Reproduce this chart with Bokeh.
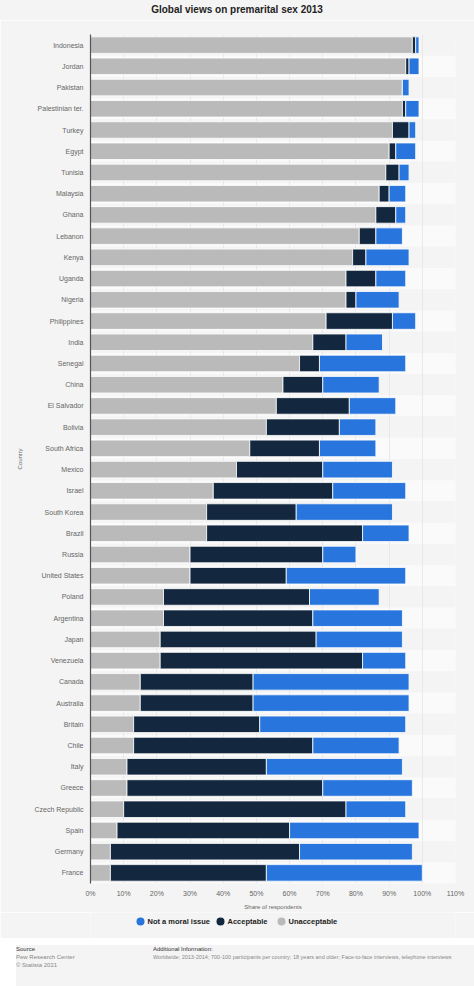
from bokeh.plotting import figure
from bokeh.layouts import column, row
from bokeh.models import (ColumnDataSource, FactorRange, Range1d, FixedTicker,
                          PrintfTickFormatter, Div)
from bokeh.core.properties import value
from bokeh.embed import file_html
from bokeh.resources import INLINE

# ---------------- data ----------------
countries = ["Indonesia", "Jordan", "Pakistan", "Palestinian ter.", "Turkey", "Egypt",
             "Tunisia", "Malaysia", "Ghana", "Lebanon", "Kenya", "Uganda", "Nigeria",
             "Philippines", "India", "Senegal", "China", "El Salvador", "Bolivia",
             "South Africa", "Mexico", "Israel", "South Korea", "Brazil", "Russia",
             "United States", "Poland", "Argentina", "Japan", "Venezuela", "Canada",
             "Australia", "Britain", "Chile", "Italy", "Greece", "Czech Republic",
             "Spain", "Germany", "France"]
unacceptable = [97, 95, 94, 94, 91, 90, 89, 87, 86, 81, 79, 77, 77, 71, 67, 63, 58, 56, 53,
                48, 44, 37, 35, 35, 30, 30, 22, 22, 21, 21, 15, 15, 13, 13, 11, 11, 10, 8, 6, 6]
acceptable = [1, 1, 0, 1, 5, 2, 4, 3, 6, 5, 4, 9, 3, 20, 10, 6, 12, 22, 22,
              21, 26, 36, 27, 47, 40, 29, 44, 45, 47, 61, 34, 34, 38, 54, 42, 59, 67, 52, 57, 47]
not_moral = [1, 3, 2, 4, 2, 6, 3, 5, 3, 8, 13, 9, 13, 7, 11, 26, 17, 14, 11,
             17, 21, 22, 29, 14, 10, 36, 21, 27, 26, 13, 47, 47, 44, 26, 41, 27, 18, 39, 34, 47]
series_names = ["Not a moral issue", "Acceptable", "Unacceptable"]
x_ticks = [0, 10, 20, 30, 40, 50, 60, 70, 80, 90, 100, 110]
x_max = 110

title_text = "Global views on premarital sex 2013"
x_label = "Share of respondents"
y_label = "Country"
source_lines = ["Source", "Pew Research Center", "© Statista 2021"]
info_lines = ["Additional Information:",
              "Worldwide; 2013-2014; 700-100 participants per country; 18 years and older; "
              "Face-to-face interviews, telephone interviews"]

# ---------------- styles ----------------
C_UNACC = "#bababa"
C_ACC = "#13283f"
C_NOT = "#2876dd"
BG = "#f4f4f4"
BAND = "#fafafa"
FONT = "Liberation Sans"
W = 474
H_TITLE = 20
H_MAIN = 892
H_LEG = 26
H_NOTES = 48
FRAME_L, FRAME_R = 90, 455   # frame edges in page pixels

# ---------------- title ----------------
title_div = Div(text=title_text, width=W, height=H_TITLE, margin=0,
                styles={"font-family": FONT, "font-size": "10px", "font-weight": "bold",
                        "color": "#222222", "text-align": "center", "line-height": "20px",
                        "background-color": BG, "white-space": "nowrap"})

# ---------------- main chart ----------------
source = ColumnDataSource(dict(country=countries, unacc=unacceptable,
                               acc=acceptable, notm=not_moral))
band_src = ColumnDataSource(dict(
    country=countries,
    right=[x_max] * len(countries),
    color=[BAND if i % 2 == 1 else BG for i in range(len(countries))]))

p = figure(width=W, height=H_MAIN, output_backend="svg", toolbar_location=None, title=None,
           x_range=Range1d(0, x_max), y_range=FactorRange(factors=countries[::-1], range_padding=0),
           min_border_left=FRAME_L, min_border_right=W - FRAME_R, min_border_top=14,
           min_border_bottom=29,
           background_fill_color=BG, border_fill_color=BG, outline_line_color=None)

p.hbar(y="country", left=0, right="right", height=1.0, fill_color="color", line_color=None,
       source=band_src, level="image")

p.hbar_stack(["unacc", "acc", "notm"], y="country", height=0.78, source=source,
             fill_color=[C_UNACC, C_ACC, C_NOT], line_color="white", line_width=0.8)

p.xaxis.ticker = FixedTicker(ticks=x_ticks)
p.xaxis.formatter = PrintfTickFormatter(format="%d%%")
p.xaxis.axis_line_color = None
p.xaxis.major_tick_line_color = None
p.xaxis.minor_tick_line_color = None
p.xaxis.major_tick_out = 0
p.xaxis.major_label_standoff = 6
p.xaxis.major_label_text_font = FONT
p.xaxis.major_label_text_font_size = "7px"
p.xaxis.major_label_text_color = "#666666"
p.xaxis.axis_label = x_label
p.xaxis.axis_label_text_font = FONT
p.xaxis.axis_label_text_font_size = "6px"
p.xaxis.axis_label_text_font_style = "normal"
p.xaxis.axis_label_text_color = "#666666"
p.xaxis.axis_label_standoff = 4

p.yaxis.axis_line_color = "#555555"
p.yaxis.axis_line_width = 1.2
p.yaxis.major_tick_line_color = None
p.yaxis.minor_tick_line_color = None
p.yaxis.major_tick_out = 0
p.yaxis.major_label_standoff = 7
p.yaxis.major_label_text_font = FONT
p.yaxis.major_label_text_font_size = "7px"
p.yaxis.major_label_text_color = "#666666"
p.yaxis.axis_label = y_label
p.yaxis.axis_label_text_font = FONT
p.yaxis.axis_label_text_font_size = "6px"
p.yaxis.axis_label_text_font_style = "normal"
p.yaxis.axis_label_text_color = "#666666"
p.yaxis.axis_label_standoff = 8

p.xgrid.grid_line_color = "#e4e4e4"
p.xgrid.grid_line_width = 0.8
p.ygrid.grid_line_color = None

# ---------------- legend strip (frame aligned with the main frame by the column) --------
f = figure(width=W, height=H_LEG, output_backend="svg", toolbar_location=None, title=None,
           x_axis_location=None, y_axis_location=None,
           x_range=Range1d(FRAME_L, FRAME_R), y_range=Range1d(H_LEG, 0),
           min_border_left=FRAME_L, min_border_right=W - FRAME_R,
           min_border_top=0, min_border_bottom=0,
           background_fill_color=BG, border_fill_color=BG, outline_line_color=None)
f.grid.visible = False

leg_src = ColumnDataSource(dict(
    mx=[140, 220, 281], tx=[147, 227, 288], y=[9, 9, 9],
    color=[C_NOT, C_ACC, C_UNACC], name=series_names))
f.scatter(x="mx", y="y", size=8, marker="circle", fill_color="color", line_color=None,
          source=leg_src)
f.text(x="tx", y="y", text="name", source=leg_src, text_font=value(FONT),
       text_font_size="7.5px", text_font_style="bold", text_color="#222222",
       text_baseline="middle", text_align="left")

# ---------------- source notes ----------------
note_style = {"font-family": FONT, "font-size": "6px", "line-height": "8px",
              "color": "#888888", "white-space": "nowrap", "overflow": "hidden",
              "background-color": BG}
src_html = '<span style="color:#333333">%s</span><br>%s<br>%s' % tuple(source_lines)
info_html = ('<span style="color:#333333">%s</span><br>'
             '<span style="font-size:5.5px">%s</span>') % tuple(info_lines)
src_div = Div(text=src_html, width=137, height=H_NOTES - 7, margin=(7, 0, 0, 16),
              styles=note_style)
info_div = Div(text=info_html, width=W - 153, height=H_NOTES - 7, margin=(7, 0, 0, 0),
               styles=note_style)
notes = row(src_div, info_div, spacing=0)

layout = column(title_div, p, f, notes, spacing=0)
html = file_html(layout, INLINE, title="Global views on premarital sex 2013")
html = html.replace("<body>", '<body style="background-color:#f4f4f4;">', 1)
open("out.html", "w").write(html)
